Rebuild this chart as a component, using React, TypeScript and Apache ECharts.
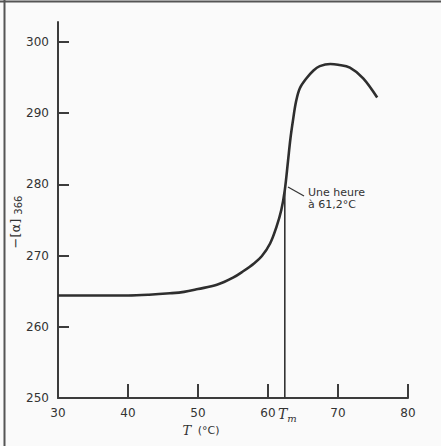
import React, { useEffect, useRef } from "react";
import * as echarts from "echarts";

const temps = [30, 35, 40, 43, 46, 48, 50, 52.7, 55, 56.45, 58, 59.1, 60.3, 61.2, 61.9, 62.4, 62.85, 63.2, 63.6, 64.0, 64.55, 65.5, 66.5, 67.4, 68.9, 70, 71.7, 73.6, 75.6];
const rotation = [264.4, 264.4, 264.4, 264.5, 264.7, 264.9, 265.3, 265.9, 266.9, 267.8, 268.9, 269.9, 271.7, 274.0, 276.4, 279.2, 283.2, 286.4, 289.2, 291.6, 293.5, 294.9, 296.0, 296.6, 296.9, 296.8, 296.4, 294.9, 292.2];
const xTicks = [30, 40, 50, 60, 70, 80];
const yTicks = [250, 260, 270, 280, 290, 300];
const tm = 62.4;
const tmTop = 279.2;

export default function App() {
  const ref = useRef<HTMLDivElement>(null);
  useEffect(() => {
    if (!ref.current) return;
    const chart = echarts.init(ref.current, null, { renderer: "svg" });
    const axisColor = "#3c3c3c";
    const labelStyle = { color: "#333", fontFamily: "DejaVu Sans", fontSize: 12 };
    chart.setOption({
      animation: false,
      backgroundColor: "#fafafa",
      grid: { left: 58, right: 33, top: 22, bottom: 48 },
      xAxis: {
        type: "value",
        min: 30,
        max: 80,
        splitLine: { show: false },
        axisLine: { lineStyle: { color: axisColor, width: 2 } },
        axisTick: { inside: true, length: 14, customValues: xTicks.slice(1), lineStyle: { color: axisColor, width: 2 } },
        axisLabel: { customValues: xTicks, margin: 9, ...labelStyle },
      },
      yAxis: {
        type: "value",
        min: 250,
        max: 302.8,
        splitLine: { show: false },
        axisLine: { lineStyle: { color: axisColor, width: 2 } },
        axisTick: { inside: true, length: 11, customValues: yTicks.slice(1), lineStyle: { color: axisColor, width: 2 } },
        axisLabel: { customValues: yTicks, margin: 9, ...labelStyle },
      },
      series: [
        {
          type: "line",
          data: temps.map((t, i) => [t, rotation[i]]),
          smooth: 0.35,
          showSymbol: false,
          lineStyle: { color: "#2e2e2e", width: 2.6 },
        },
        {
          type: "line",
          data: [[tm, 250], [tm, tmTop]],
          showSymbol: false,
          lineStyle: { color: "#333", width: 1.6 },
        },
      ],
      graphic: [
        { type: "line", shape: { x1: 0, y1: 1.5, x2: 441, y2: 1.5 }, style: { stroke: "#555", lineWidth: 2 } },
        { type: "line", shape: { x1: 4.5, y1: 0, x2: 4.5, y2: 446 }, style: { stroke: "#555", lineWidth: 2 } },
        { type: "line", shape: { x1: 288, y1: 187, x2: 304, y2: 196 }, style: { stroke: "#333", lineWidth: 1.2 } },
        {
          type: "text", x: 308, y: 192,
          style: { text: "Une heure", fontFamily: "DejaVu Sans", fontSize: 11, fill: "#333", align: "left", verticalAlign: "middle" },
        },
        {
          type: "text", x: 308, y: 204,
          style: { text: "à 61,2°C", fontFamily: "DejaVu Sans", fontSize: 11, fill: "#333", align: "left", verticalAlign: "middle" },
        },
        {
          type: "text", x: 278, y: 414,
          style: {
            text: "{t|T}{m|m}",
            align: "left", verticalAlign: "middle",
            rich: {
              t: { fontFamily: "DejaVu Serif", fontStyle: "italic", fontSize: 14, fill: "#333" },
              m: { fontFamily: "DejaVu Serif", fontStyle: "italic", fontSize: 10, fill: "#333", padding: [8, 0, 0, 0] },
            },
          },
        },
        {
          type: "text", x: 201, y: 430,
          style: {
            text: "{t|T}  {u|(°C)}",
            align: "center", verticalAlign: "middle",
            rich: {
              t: { fontFamily: "DejaVu Serif", fontStyle: "italic", fontSize: 13, fill: "#333" },
              u: { fontFamily: "DejaVu Sans", fontSize: 11, fill: "#333" },
            },
          },
        },
        {
          type: "text", x: 15, y: 222, rotation: Math.PI / 2,
          style: {
            text: "−[α] {s|366}",
            fontFamily: "DejaVu Sans", fontSize: 13, fill: "#333",
            align: "center", verticalAlign: "middle",
            rich: {
              s: { fontFamily: "DejaVu Sans", fontSize: 10, fill: "#333", padding: [7, 0, 0, 0] },
            },
          },
        },
      ],
    });
    return () => chart.dispose();
  }, []);
  return <div ref={ref} style={{ position: "fixed", left: 0, top: 0, width: 441, height: 446 }} />;
}
